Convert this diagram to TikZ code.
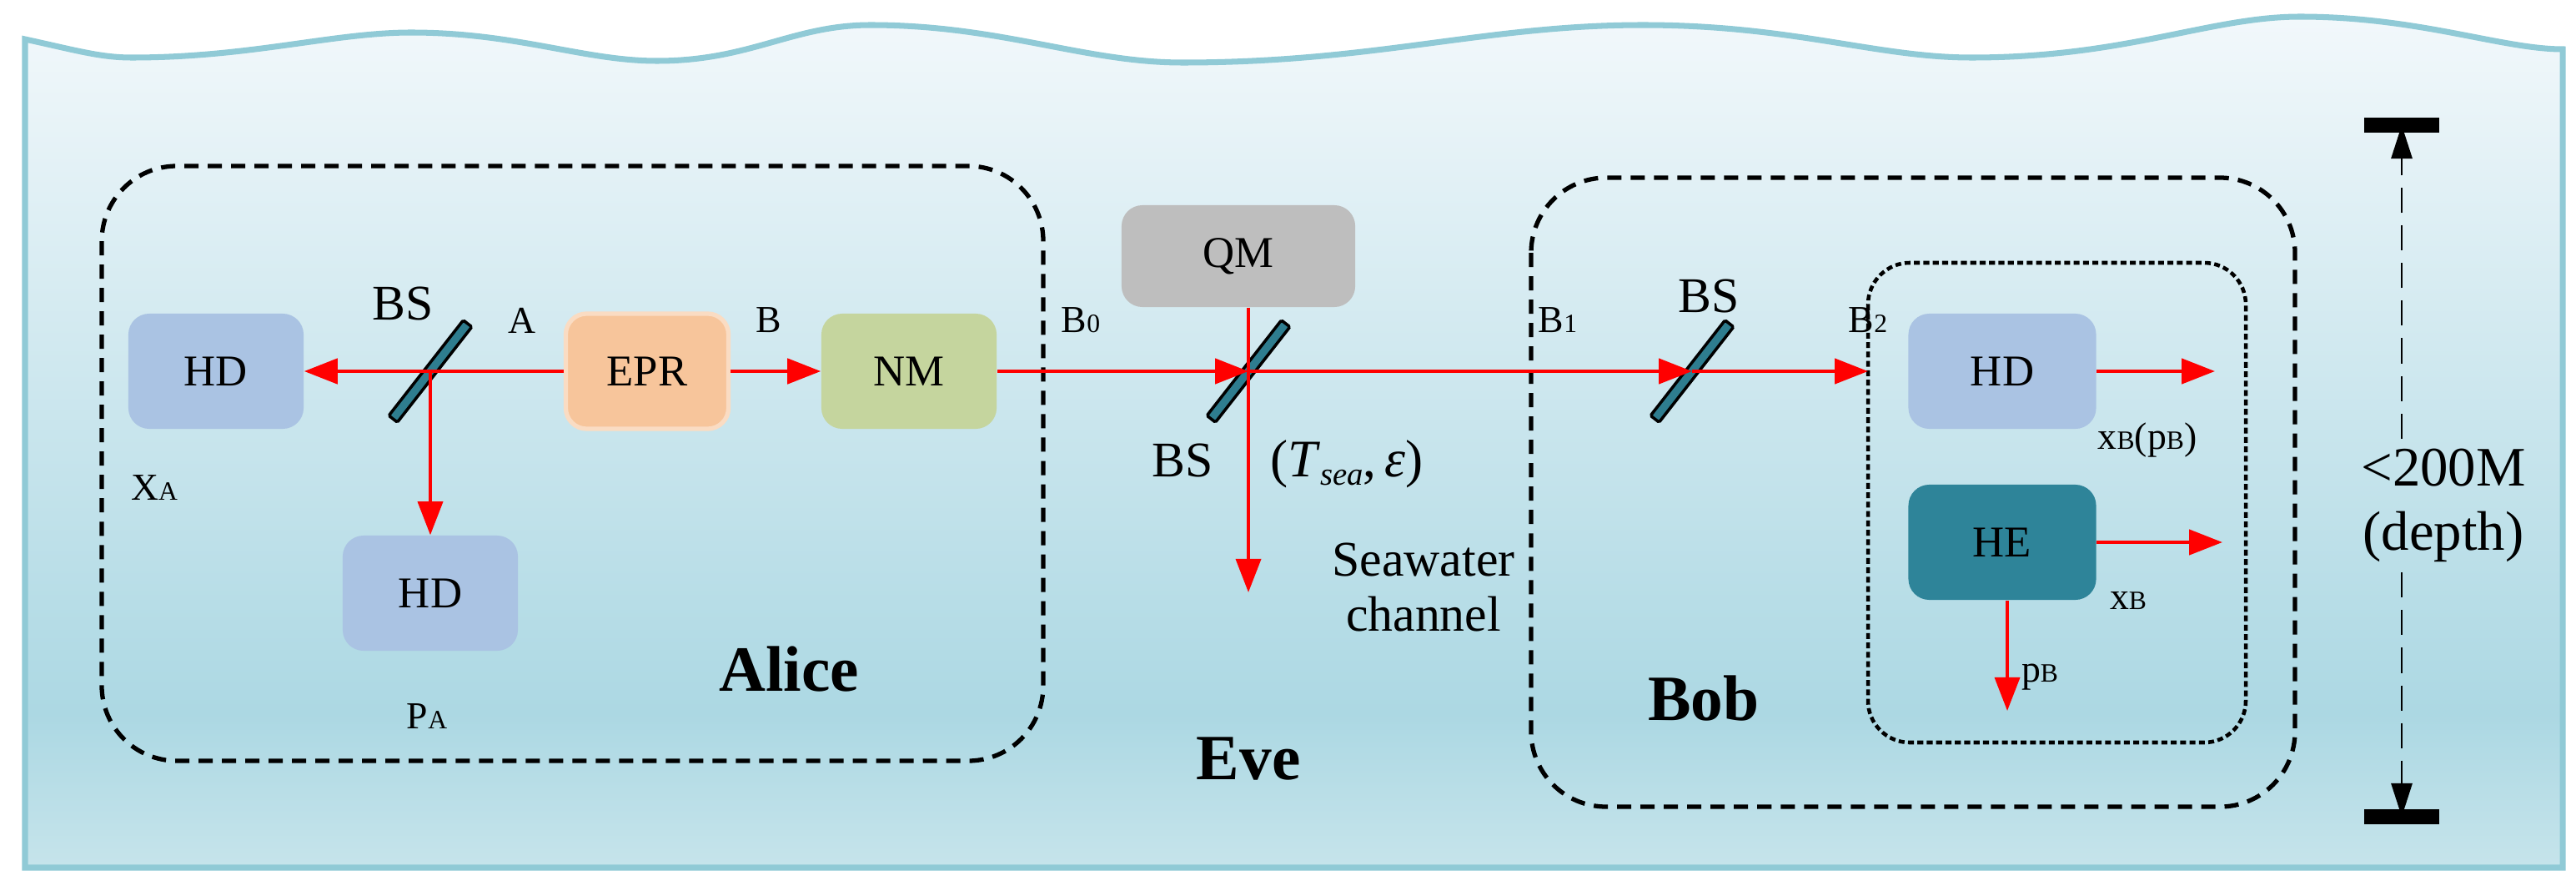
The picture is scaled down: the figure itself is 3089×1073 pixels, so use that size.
\documentclass[tikz,border=0pt]{standalone}
\usepackage{fontspec}
\setmainfont{Liberation Serif}
\usetikzlibrary{arrows.meta, positioning}
\definecolor{seatop}{HTML}{F2F8FB}
\definecolor{seamid}{HTML}{ACD8E3}
\definecolor{seabot}{HTML}{C6E4EB}
\definecolor{seaedge}{HTML}{90CAD6}
\definecolor{hdblue}{HTML}{AAC3E3}
\definecolor{eprorange}{HTML}{F7C59B}
\definecolor{nmgreen}{HTML}{C5D59E}
\definecolor{qmgray}{HTML}{BEBEBE}
\definecolor{heteal}{HTML}{2E8499}
\definecolor{mirror}{HTML}{2E7D8F}
\pgfdeclareverticalshading{sea}{100bp}{color(0bp)=(seabot); color(25bp)=(seabot); color(34bp)=(seamid); color(75bp)=(seatop); color(100bp)=(seatop)}
\newcommand{\lowsub}[2]{#1{\fontsize{9}{9}\selectfont #2}}
\begin{document}
\begin{tikzpicture}[x=0.01cm, y=-0.01cm,
  dev/.style={rounded corners=0.25cm, minimum width=2.1cm, minimum height=1.38cm, font=\fontsize{15}{15}\selectfont},
  bs/.style={draw=black, fill=mirror, line width=1pt, rounded corners=0.5pt, minimum width=1.45cm, minimum height=0.13cm, inner sep=0pt, rotate=52},
  beam/.style={draw=red, line width=1.3pt, -{Triangle[length=4mm,width=3mm]}},
  box/.style={draw=black, line width=1.5pt, dash pattern=on 0.17cm off 0.11cm, rounded corners=0.9cm},
  lbl/.style={font=\fontsize{13}{13}\selectfont},
  big/.style={font=\fontsize{22}{22}\selectfont\bfseries}]
\useasboundingbox (0,0) rectangle (3089,1073);
% seawater
\shade[shading=sea, draw=seaedge, line width=2pt]
  (30,47) .. controls (90,60) and (120,69) .. (158,69)
  .. controls (300,69) and (400,39) .. (493,39)
  .. controls (620,39) and (700,73) .. (788,73)
  .. controls (900,73) and (950,30) .. (1044,30)
  .. controls (1200,30) and (1300,75) .. (1418,75)
  .. controls (1650,75) and (1780,30) .. (1970,30)
  .. controls (2150,30) and (2250,69) .. (2364,69)
  .. controls (2550,69) and (2650,20) .. (2758,20)
  .. controls (2900,20) and (3000,59) .. (3073,59)
  -- (3073,1040) -- (30,1040) -- cycle;

% Alice
\draw[box] (122,199) rectangle (1251,912);
\node[dev, fill=hdblue] (hda) at (259,445) {HD};
\node[bs] (bsa) at (516,445) {};
\node[dev, fill=eprorange, draw=eprorange!60!white, line width=1.5pt, minimum width=1.95cm] (epr) at (776,445) {EPR};
\node[dev, fill=nmgreen] (nm) at (1090,445) {NM};
\node[dev, fill=hdblue] (hdp) at (516,711) {HD};
\node[lbl, font=\fontsize{17}{17}\selectfont] at (483,364) {BS};
\node[lbl] at (626,384) {A};
\node[lbl] at (922,384) {B};
\node[lbl] at (185,585) {\lowsub{X}{A}};
\node[lbl] at (512,859) {\lowsub{P}{A}};
\node[big] at (946,802) {Alice};
\draw[beam] (epr.west) -- (hda.east);
\draw[beam] (epr.east) -- (nm.west);
\draw[beam, line width=1pt] (bsa.center) -- (hdp.north);

% Eve
\node[dev, fill=qmgray, minimum width=2.8cm, minimum height=1.22cm] (qm) at (1485,307) {QM};
\node[bs] (bse) at (1497,445) {};
\coordinate (seadown) at (1497,710);
\node[lbl] at (1296,384) {\lowsub{B}{0}};
\node[lbl, font=\fontsize{17}{17}\selectfont] at (1418,552) {BS};
\node[font=\fontsize{18}{18}\selectfont] at (1615,556) {(\textit{T}\raisebox{-0.35ex}{\fontsize{11}{11}\selectfont\textit{sea}},\,\textit{ε})};
\node[lbl, font=\fontsize{17}{19}\selectfont, align=center] at (1707,704) {Seawater\\channel};
\node[big] at (1497,910) {Eve};
\draw[beam] (nm.east) -- (bse.center);
\draw[beam, line width=1pt] (qm.south -| seadown) -- (seadown);

% Bob
\draw[box] (1836,213) rectangle (2752,967);
\draw[box, line width=1.3pt, dash pattern=on 2pt off 1.2pt, rounded corners=0.5cm] (2240,315) rectangle (2693,890);
\node[bs] (bsb) at (2029,445) {};
\node[dev, fill=hdblue, minimum width=2.25cm] (hdb) at (2401,445) {HD};
\node[dev, fill=heteal, minimum width=2.25cm] (he) at (2401,650) {HE};
\coordinate (boxin) at (2240,445);
\coordinate (hdout) at (2656,445);
\coordinate (heout) at (2665,650);
\coordinate (hedown) at (2407,852);
\node[lbl] at (1868,384) {\lowsub{B}{1}};
\node[lbl, font=\fontsize{17}{17}\selectfont] at (2049,355) {BS};
\node[lbl] at (2240,384) {\lowsub{B}{2}};
\node[lbl] at (2575,528) {\lowsub{x}{B}(\lowsub{p}{B})};
\node[lbl] at (2552,720) {\lowsub{x}{B}};
\node[lbl] at (2446,812) {\lowsub{p}{B}};
\node[big] at (2043,837) {Bob};
\draw[beam] (bse.center) -- (bsb.center);
\draw[beam] (bsb.center) -- (boxin);
\draw[beam] (hdb.east) -- (hdout);
\draw[beam] (he.east) -- (heout);
\draw[beam, line width=1pt] (he.south -| hedown) -- (hedown);

% depth
\coordinate (dtop) at (2880,150);
\coordinate (dbot) at (2880,979);
\node[font=\fontsize{19}{22}\selectfont, align=center] (depth) at (2930,606) {<200M\\(depth)};
\draw[line width=5pt] (2835,150) -- (2925,150);
\draw[line width=5pt] (2835,979) -- (2925,979);
\draw[line width=0.8pt, dash pattern=on 0.3cm off 0.15cm, -{Triangle[length=4mm,width=2.5mm]}] (depth.north -| dtop) -- (dtop);
\draw[line width=0.8pt, dash pattern=on 0.3cm off 0.15cm, -{Triangle[length=4mm,width=2.5mm]}] (depth.south -| dbot) -- (dbot);
\end{tikzpicture}
\end{document}
